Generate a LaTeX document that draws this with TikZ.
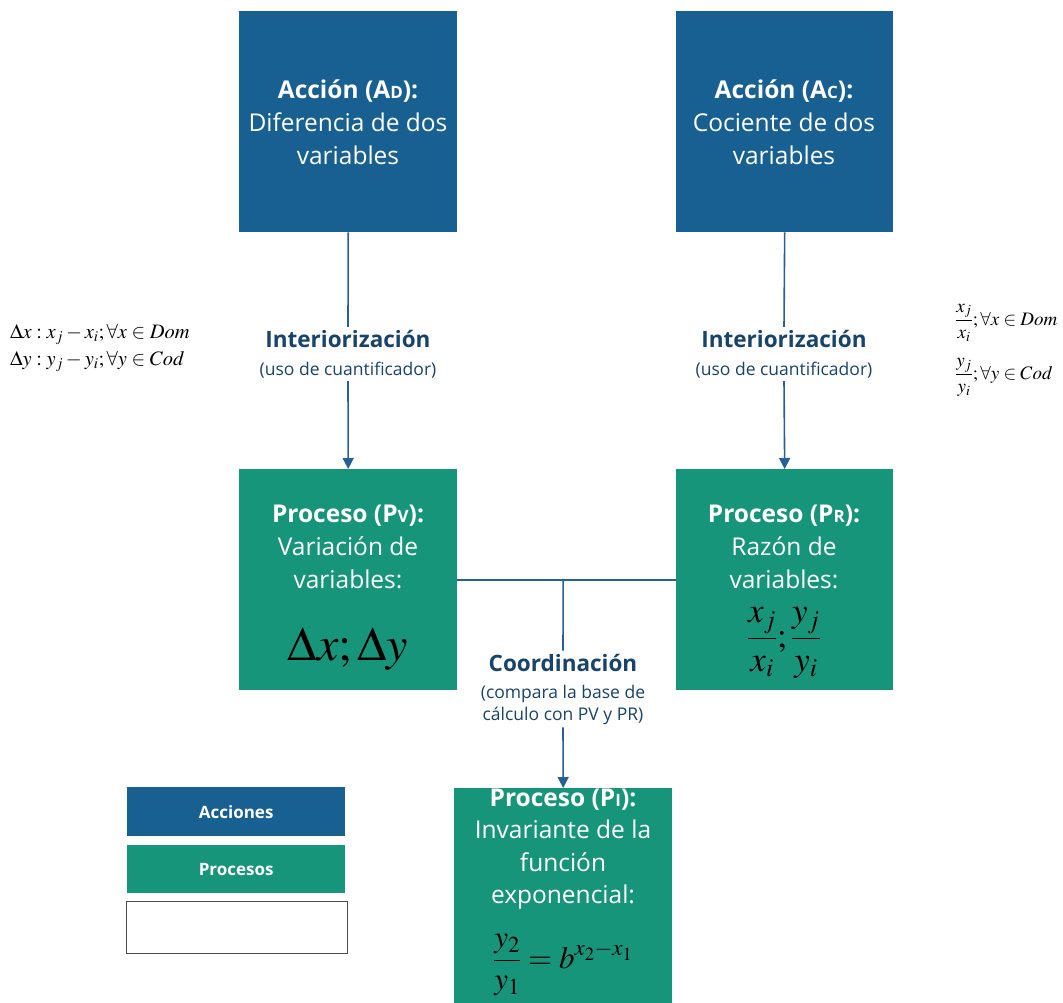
\documentclass[tikz,border=0pt]{standalone}
\usepackage{mathptmx}
\usepackage[no-math]{fontspec}
\setmainfont{Open Sans}
\usetikzlibrary{arrows.meta}
\definecolor{accblue}{RGB}{23,96,145}
\definecolor{procgreen}{RGB}{23,149,122}
\definecolor{lblblue}{RGB}{24,68,108}
\definecolor{lineblue}{RGB}{38,96,150}
\newcommand\fsizeset[2]{\fontsize{#1}{#2}\selectfont}
\begin{document}
\begin{tikzpicture}[x=1pt,y=-1pt,
  abox/.style={fill=accblue,draw=none,inner sep=0pt,anchor=north west},
  pbox/.style={fill=procgreen,draw=none,inner sep=0pt,anchor=north west},
  boxtext/.style={text=white,align=center,font=\fsizeset{24.5}{33}},
  conn/.style={draw=lineblue,line width=1.6pt},
  arr/.style={conn,-{Triangle[width=11pt,length=11pt]}},
  lbl/.style={fill=white,align=center,text=lblblue,inner sep=3pt,font=\fsizeset{17.5}{22}},
  legtext/.style={text=white,font=\fsizeset{17}{18}\bfseries},
  mathtext/.style={text=black,inner sep=0pt}
]
\useasboundingbox (0,0) rectangle (1063,1002);
\clip (0,0) rectangle (1063,1002);

% boxes
\node[abox,minimum width=218pt,minimum height=221pt] (ad) at (239,11) {};
\node[abox,minimum width=217pt,minimum height=221pt] (ac) at (676,11) {};
\node[pbox,minimum width=218pt,minimum height=221pt] (pv) at (239,469) {};
\node[pbox,minimum width=217pt,minimum height=221pt] (pr) at (676,469) {};
\node[pbox,minimum width=218pt,minimum height=240pt] (pi) at (454,788) {};

% box texts
\node[boxtext] (adt) at (348,122) {{\bfseries Acción (A{\fsizeset{17}{17}D}):}\\Diferencia de dos\\variables};
\node[boxtext] (act) at (784,122) {{\bfseries Acción (A{\fsizeset{17}{17}C}):}\\Cociente de dos\\variables};
\node[boxtext] (pvt) at (348,547) {{\bfseries Proceso (P{\fsizeset{17}{17}V}):}\\Variación de\\variables:};
\node[mathtext] (pvm) at (348,649) {\fsizeset{48}{48}$\Delta x;\Delta y$};
\node[boxtext] (prt) at (784,547) {{\bfseries Proceso (P{\fsizeset{17}{17}R}):}\\Razón de\\variables:};
\node[mathtext] (prm) at (784,643) {\fsizeset{35}{35}$\displaystyle\frac{x_j}{x_i};\frac{y_j}{y_i}$};
\node[boxtext,font=\fsizeset{24.5}{32.5}] (pit) at (563,849) {{\bfseries Proceso (P{\fsizeset{17}{17}I}):}\\Invariante de la\\función\\exponencial:};
\node[mathtext] (pim) at (563,965) {\fsizeset{31}{31}$\displaystyle\frac{y_2}{y_1}=b^{x_2-x_1}$};

% side formulas
\node[mathtext,anchor=west] (fl) at (10,348) {\fsizeset{20.5}{20.5}$\begin{array}{@{}l@{}}\Delta x : x_j - x_i;\forall x\in Dom\\[6pt] \Delta y : y_j - y_i;\forall y\in Cod\end{array}$};
\node[mathtext,anchor=west] (fr) at (955,350) {\fsizeset{19}{19}$\begin{array}{@{}l@{}}\displaystyle\frac{x_j}{x_i};\forall x\in Dom\\[27pt] \displaystyle\frac{y_j}{y_i};\forall y\in Cod\end{array}$};

% connector labels
\node[lbl] (il) at (348,354) {{\fsizeset{22.5}{22}\bfseries Interiorización}\\[6pt](uso de cuantificador)};
\node[lbl] (ir) at (784,354) {{\fsizeset{22.5}{22}\bfseries Interiorización}\\[6pt](uso de cuantificador)};
\node[lbl] (cl) at (563,689) {{\fsizeset{22.5}{22}\bfseries Coordinación}\\[5pt](compara la base de\\cálculo con PV y PR)};

% connectors
\draw[conn] (ad.south) -- (il.north);
\draw[arr] (il.south) -- (pv.north);
\draw[conn] (ac.south) -- (ir.north);
\draw[arr] (ir.south) -- (pr.north);
\coordinate (jn) at (pv.east -| pi.north);
\draw[conn] (pv.east) -- (pr.west);
\draw[conn] (jn) -- (cl.north);
\draw[arr] (cl.south) -- (pi.north);

% legend
\node[abox,minimum width=218pt,minimum height=49pt] (lacc) at (127,787) {};
\node[legtext] (lacct) at (lacc.center) {Acciones};
\node[pbox,minimum width=218pt,minimum height=48pt] (lproc) at (127,845) {};
\node[legtext] (lproct) at (lproc.center) {Procesos};
\node[draw=black!70,line width=1pt,fill=white,anchor=north west,minimum width=221pt,minimum height=52pt,inner sep=0pt] (lemp) at (125.5,900.5) {};
\end{tikzpicture}
\end{document}
